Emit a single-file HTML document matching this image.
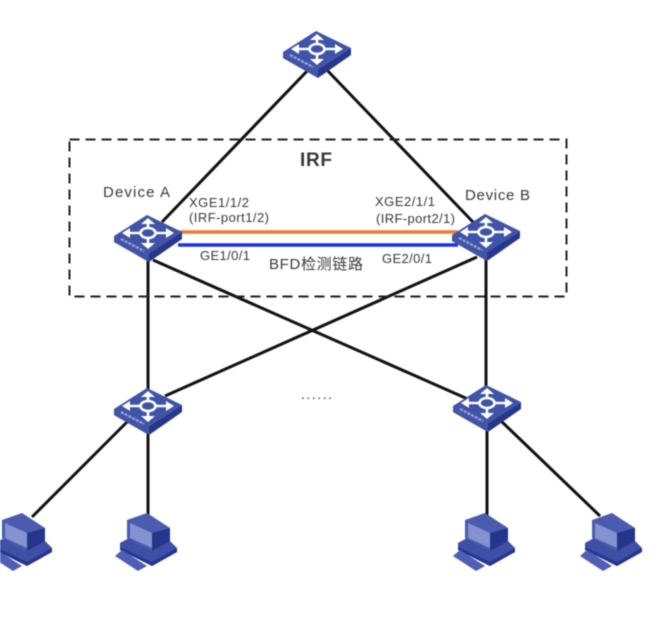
<!DOCTYPE html>
<html><head><meta charset="utf-8"><style>
html,body{margin:0;padding:0;background:#fff;width:663px;height:630px;overflow:hidden}
svg{display:block;filter:blur(.6px)}
text{font-family:"Liberation Sans","Noto Sans CJK SC",sans-serif;fill:#3a3a3a}
</style></head><body>
<svg width="663" height="630" viewBox="0 0 663 630" xmlns="http://www.w3.org/2000/svg">
<defs>
<g id="sw">
<path d="M-33 21L2 38L35 17L35 24L2 47L-33 27Z" fill="#27378c"/>
<path d="M-33 21L2 38L2 47L-33 27Z" fill="#4254a6"/>
<path d="M0 0L-33 21L2 38L35 17Z" fill="#3f53a8"/>
<g stroke="#fff" stroke-width="2.6" fill="none">
<ellipse cx="1" cy="18" rx="7.500" ry="5"/>
<path d="M1 6V13M1 23V31M-20 18H-6M8 18H22"/>
</g>
<path d="M1 3L-6 9H8ZM1 34L-6 28H8ZM-25 18L-17 13V23ZM27 18L19 13V23Z" fill="#fff"/>
<path d="M-26 24L-3 36" stroke="#b9c1e2" stroke-width="2.200" stroke-dasharray="3 1.200" opacity=".75"/>
</g>
<g id="pc">
<path d="M5 30L14 25L54 27L62 35L62 39L37 53L5 37Z" fill="#3f4fa6"/>
<path d="M5 34L37 49L62 35L62 39L37 53L5 37Z" fill="#26358e"/>
<path d="M12 7L32 0L55 15V28L37 38L12 25Z" fill="#4a5bb0"/>
<path d="M37 20L55 15V28L37 38Z" fill="#26358c"/>
<path d="M15 10L37 20V35L15 25Z" fill="#8492cf"/>
<path d="M0 43L7 37L32 53L23 58Z" fill="#4d5eb4"/>
</g>
</defs>
<g stroke="#111" stroke-width="3" fill="none">
<path d="M310 68L162 222"/>
<path d="M325 68L473 222"/>
<path d="M148 255V395"/>
<path d="M486 255V395"/>
<path d="M153 260L470 400"/>
<path d="M477 257L165 396"/>
<path d="M127 422L32 517"/>
<path d="M148 430V516"/>
<path d="M487 430V516"/>
<path d="M500 420L600 516"/>
</g>
<path d="M178 232H458" stroke="#f07a30" stroke-width="3.400"/>
<path d="M178 245H458" stroke="#1c2ff0" stroke-width="3.400"/>
<rect x="69.500" y="139.500" width="497" height="157" fill="none" stroke="#222" stroke-width="2" stroke-dasharray="10 6"/>
<use href="#sw" x="316" y="31"/>
<use href="#sw" x="147" y="215"/>
<use href="#sw" x="485" y="214"/>
<use href="#sw" x="147" y="388"/>
<use href="#sw" x="486" y="385"/>
<use href="#pc" x="-10" y="513"/>
<use href="#pc" x="115" y="513"/>
<use href="#pc" x="453" y="513"/>
<use href="#pc" x="580" y="513"/>
<text x="300" y="166" font-size="19" font-weight="700" fill="#333" textLength="32">IRF</text>
<text x="103" y="197" font-size="15" textLength="67">Device A</text>
<text x="465" y="200" font-size="15" textLength="65">Device B</text>
<text x="189" y="207" font-size="13" textLength="60">XGE1/1/2</text>
<text x="189" y="222" font-size="13" textLength="80">(IRF-port1/2)</text>
<text x="375" y="206" font-size="13" textLength="60">XGE2/1/1</text>
<text x="376" y="223" font-size="13" textLength="79">(IRF-port2/1)</text>
<text x="200" y="260" font-size="13" textLength="50">GE1/0/1</text>
<text x="382" y="263" font-size="13" textLength="50">GE2/0/1</text>
<text x="269" y="269" font-size="15" textLength="94">BFD检测链路</text>
<text x="301" y="399" font-size="14" textLength="31">......</text>
</svg>
</body></html>
